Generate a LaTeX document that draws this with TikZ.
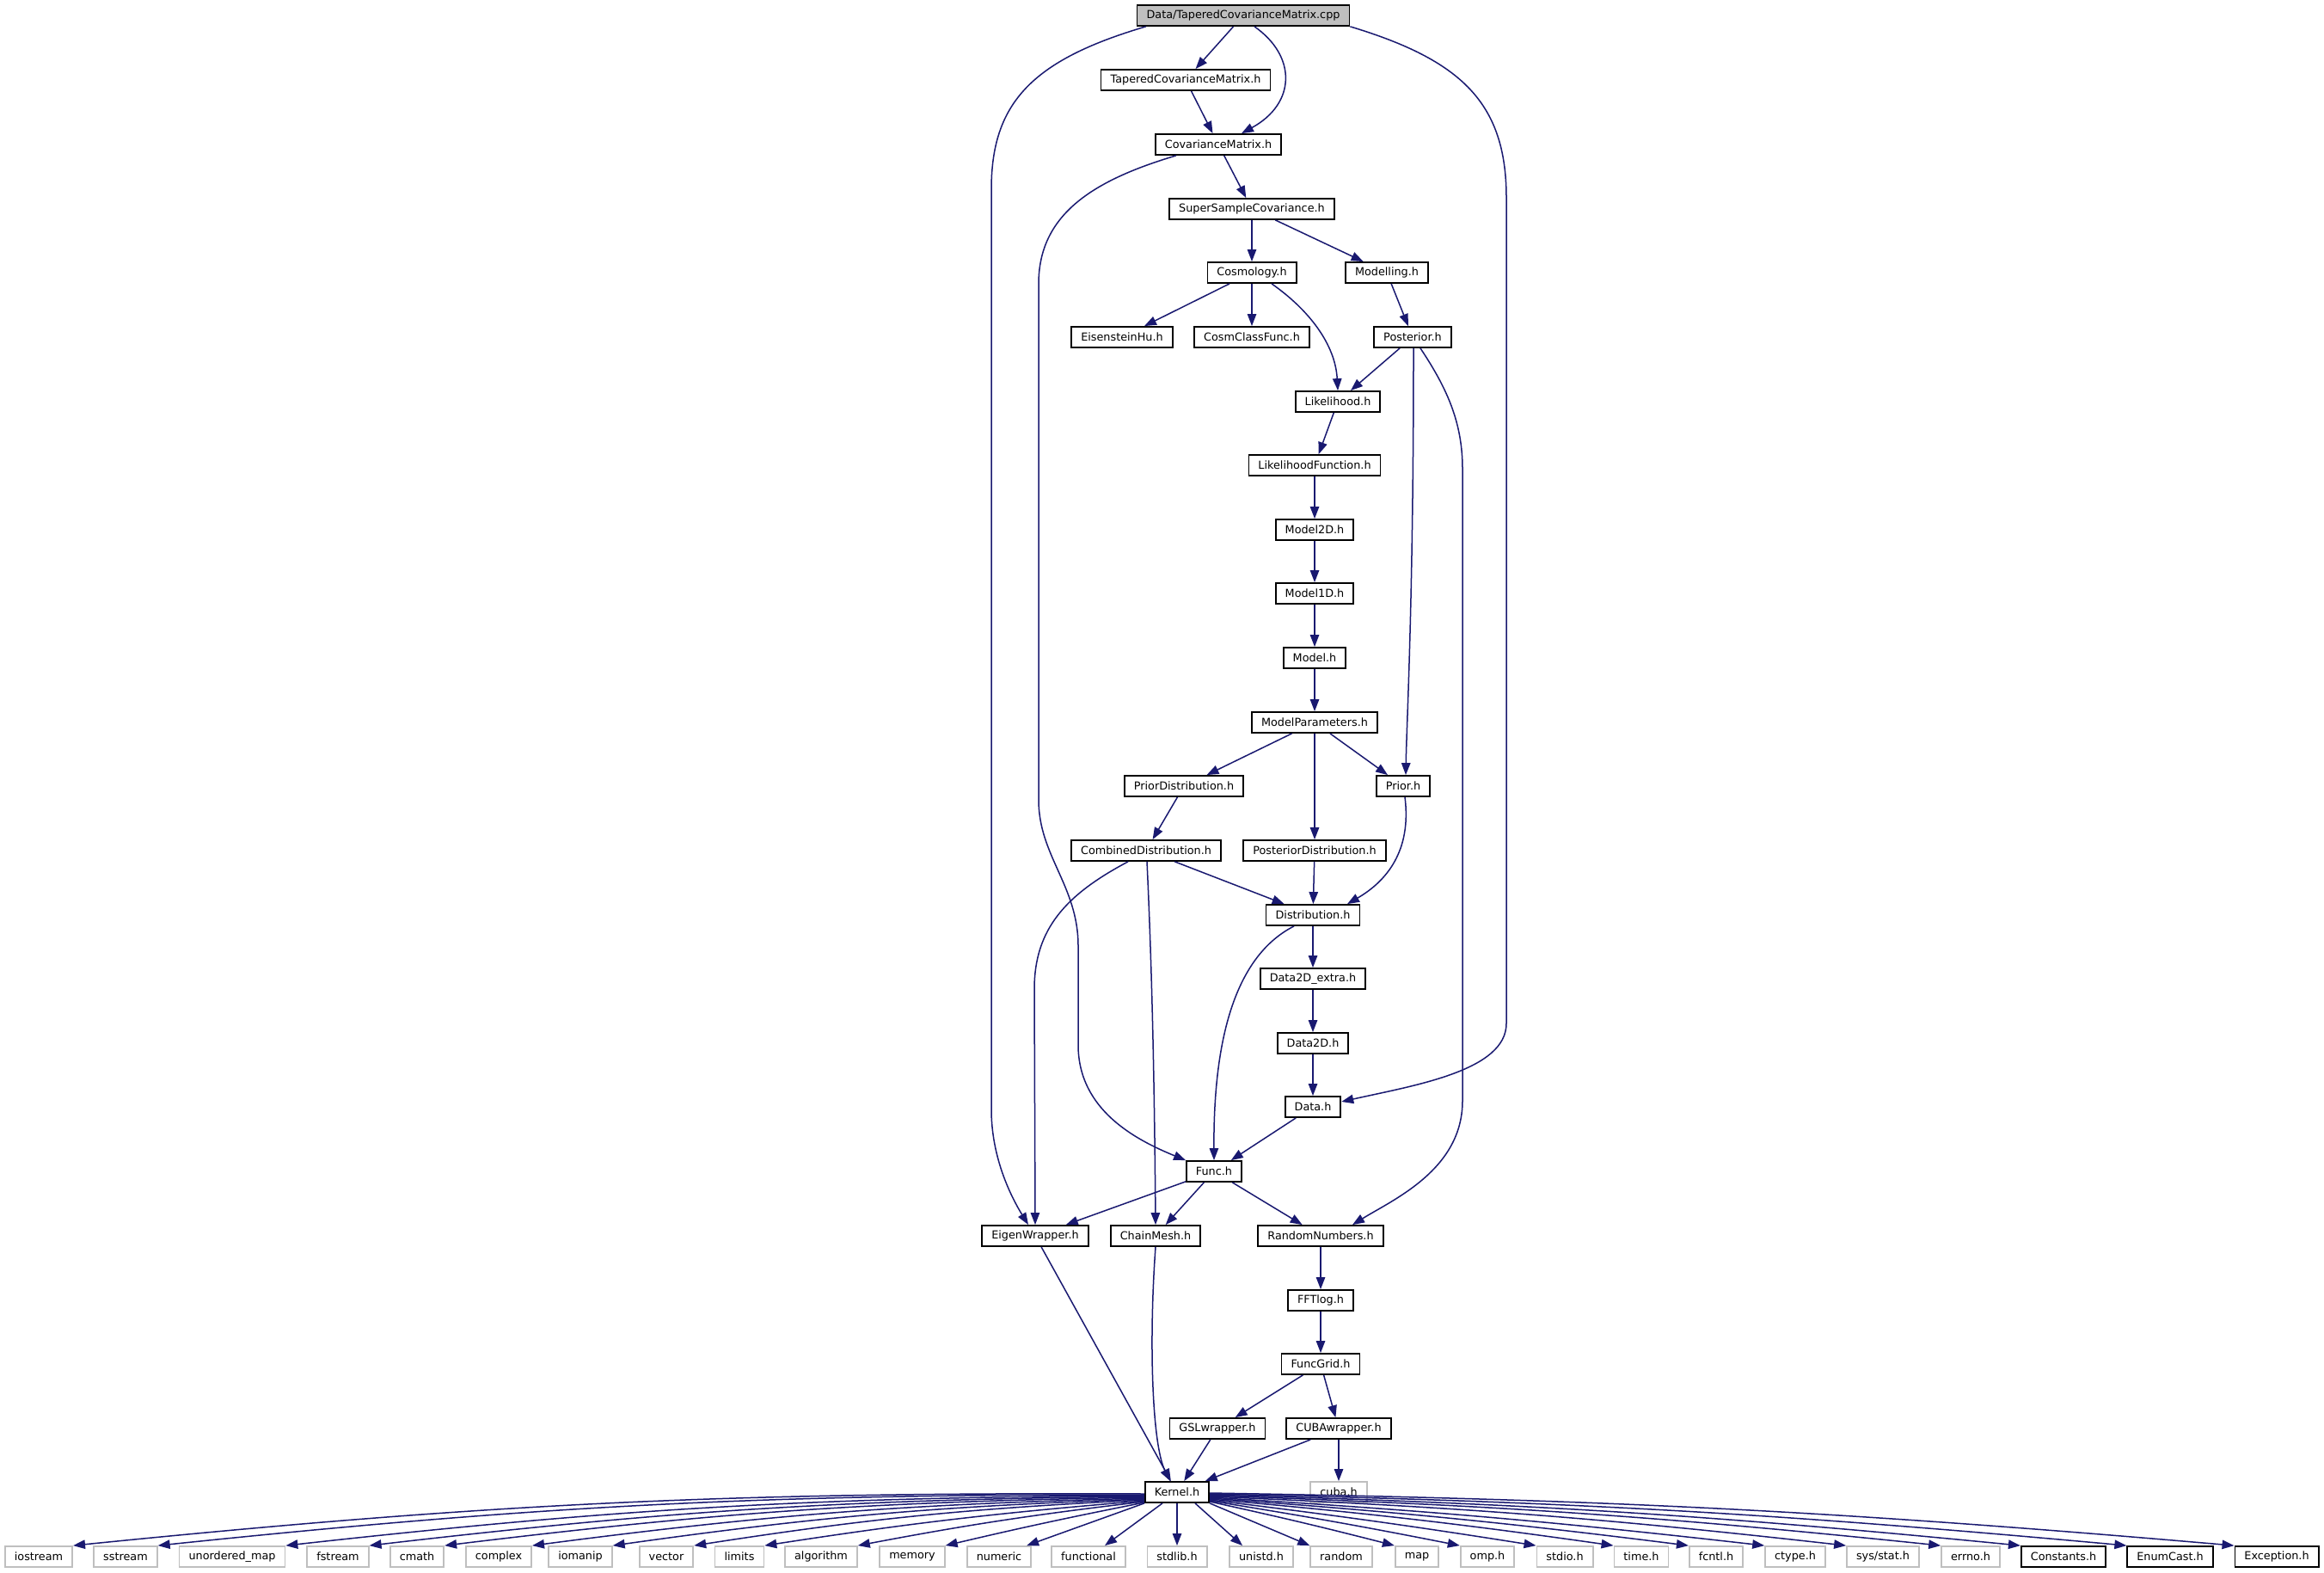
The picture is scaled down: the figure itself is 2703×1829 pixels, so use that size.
\documentclass[tikz,border=0pt]{standalone}
\usepackage{fontspec}
\setmainfont{DejaVu Sans}
\usetikzlibrary{arrows.meta,calc}
\definecolor{edgec}{HTML}{191970}
\definecolor{greyb}{HTML}{BFBFBF}
\begin{document}
\begin{tikzpicture}[x=0.5pt,y=-0.5pt,
  box/.style={draw=black, line width=0.9pt, fill=white, minimum height=12pt, inner xsep=5.5pt, inner ysep=0pt,
    font=\fontsize{6.4pt}{7.6pt}\selectfont, text=black, anchor=center},
  sysbox/.style={box, draw=greyb},
  rootbox/.style={box, fill=greyb},
  edge/.style={draw=edgec, line width=0.75pt, -{Triangle[length=7pt,width=5.2pt]}}]
\useasboundingbox (0,0) rectangle (2703,1829);
% main nodes
\node[rootbox] (cpp) at (1446,18) {Data/TaperedCovarianceMatrix.cpp};
\node[box] (tap) at (1379,93) {TaperedCovarianceMatrix.h};
\node[box] (cov) at (1417,168) {CovarianceMatrix.h};
\node[box] (ssc) at (1456,243) {SuperSampleCovariance.h};
\node[box] (cosmo) at (1456,317) {Cosmology.h};
\node[box] (modelling) at (1613,317) {Modelling.h};
\node[box] (eis) at (1305,392) {EisensteinHu.h};
\node[box] (ccf) at (1456,392) {CosmClassFunc.h};
\node[box] (post) at (1643,392) {Posterior.h};
\node[box] (lik) at (1556,467) {Likelihood.h};
\node[box] (likf) at (1529,541) {LikelihoodFunction.h};
\node[box] (m2d) at (1529,616) {Model2D.h};
\node[box] (m1d) at (1529,690) {Model1D.h};
\node[box] (model) at (1529,765) {Model.h};
\node[box] (mpar) at (1529,840) {ModelParameters.h};
\node[box] (priord) at (1377,914) {PriorDistribution.h};
\node[box] (prior) at (1632,914) {Prior.h};
\node[box] (comb) at (1333,989) {CombinedDistribution.h};
\node[box] (postd) at (1529,989) {PosteriorDistribution.h};
\node[box] (dist) at (1527,1064) {Distribution.h};
\node[box] (d2dx) at (1527,1138) {Data2D\_extra.h};
\node[box] (d2d) at (1527,1213) {Data2D.h};
\node[box] (data) at (1527,1287) {Data.h};
\node[box] (func) at (1412,1362) {Func.h};
\node[box] (eigen) at (1204,1437) {EigenWrapper.h};
\node[box] (chain) at (1344,1437) {ChainMesh.h};
\node[box] (rnd) at (1536,1437) {RandomNumbers.h};
\node[box] (fft) at (1536,1512) {FFTlog.h};
\node[box] (fgrid) at (1536,1586) {FuncGrid.h};
\node[box] (gsl) at (1416,1661) {GSLwrapper.h};
\node[box] (cubaw) at (1557,1661) {CUBAwrapper.h};
\node[box] (kernel) at (1369,1735) {Kernel.h};
\node[sysbox] (cuba) at (1557,1735) {cuba.h};
% bottom row
\node[sysbox] (bios) at (45,1810) {iostream};
\node[sysbox] (bsst) at (146,1810) {sstream};
\node[sysbox] (bum) at (270,1810) {unordered\_map};
\node[sysbox] (bfst) at (393,1810) {fstream};
\node[sysbox] (bcm) at (485,1810) {cmath};
\node[sysbox] (bcx) at (580,1810) {complex};
\node[sysbox] (biom) at (675,1810) {iomanip};
\node[sysbox] (bvec) at (775,1810) {vector};
\node[sysbox] (blim) at (860,1810) {limits};
\node[sysbox] (balg) at (955,1810) {algorithm};
\node[sysbox] (bmem) at (1061,1810) {memory};
\node[sysbox] (bnum) at (1162,1810) {numeric};
\node[sysbox] (bfun) at (1266,1810) {functional};
\node[sysbox] (bstdlib) at (1369,1810) {stdlib.h};
\node[sysbox] (bunistd) at (1467,1810) {unistd.h};
\node[sysbox] (brand) at (1560,1810) {random};
\node[sysbox] (bmap) at (1648,1810) {map};
\node[sysbox] (bomp) at (1730,1810) {omp.h};
\node[sysbox] (bstdio) at (1820,1810) {stdio.h};
\node[sysbox] (btime) at (1909,1810) {time.h};
\node[sysbox] (bfcntl) at (1996,1810) {fcntl.h};
\node[sysbox] (bctype) at (2088,1810) {ctype.h};
\node[sysbox] (bsys) at (2190,1810) {sys/stat.h};
\node[sysbox] (berrno) at (2292,1810) {errno.h};
\node[box] (bconst) at (2400,1810) {Constants.h};
\node[box] (benum) at (2524,1810) {EnumCast.h};
\node[box] (bexc) at (2648,1810) {Exception.h};
% edges, top part
\draw[edge] (cpp) -- (tap);
\draw[edge] ($(cpp.south)+(13,0)$) .. controls (1508,65) and (1508,120) .. ($(cov.north)+(27,0)$);
\draw[edge] ($(cpp.south west)+(11,0)$) .. controls (1200,70) and (1153,120) .. (1153,220) -- (1153,1290) .. controls (1153,1345) and (1175,1390) .. ($(eigen.north)+(-8,0)$);
\draw[edge] ($(cpp.south east)+(0,0)$) .. controls (1700,70) and (1752,120) .. (1752,230) -- (1752,1190) .. controls (1752,1245) and (1645,1262) .. ($(data.east)+(0,-6)$);
\draw[edge] (tap) -- (cov);
\draw[edge] (cov) -- (ssc);
\draw[edge] ($(cov.south west)+(25,0)$) .. controls (1270,210) and (1208,250) .. (1208,330) -- (1208,930) .. controls (1208,995) and (1254,1030) .. (1254,1100) -- (1254,1215) .. controls (1254,1290) and (1320,1325) .. (func.north west);
\draw[edge] (ssc) -- (cosmo);
\draw[edge] (ssc) -- (modelling);
\draw[edge] (cosmo) -- (eis);
\draw[edge] (cosmo) -- (ccf);
\draw[edge] ($(cosmo.south)+(23,0)$) .. controls (1522,360) and (1553,400) .. (lik.north);
\draw[edge] (modelling) -- (post);
\draw[edge] (post) -- (lik);
\draw[edge] ($(post.south)+(1,0)$) .. controls (1644,700) and (1636,840) .. ($(prior.north)+(3,0)$);
\draw[edge] ($(post.south)+(9,0)$) .. controls (1682,450) and (1701,490) .. (1701,545) -- (1701,1280) .. controls (1701,1360) and (1620,1395) .. ($(rnd.north)+(37,0)$);
\draw[edge] (lik) -- (likf);
\draw[edge] (likf) -- (m2d);
\draw[edge] (m2d) -- (m1d);
\draw[edge] (m1d) -- (model);
\draw[edge] (model) -- (mpar);
\draw[edge] (mpar) -- (priord);
\draw[edge] (mpar) -- (postd);
\draw[edge] (mpar) -- (prior);
\draw[edge] (priord) -- (comb);
\draw[edge] (postd) -- (dist);
\draw[edge] ($(prior.south)+(2,0)$) .. controls (1642,990) and (1612,1025) .. ($(dist.north)+(40,0)$);
\draw[edge] (comb) -- (dist);
\draw[edge] ($(comb.south)+(-21,0)$) .. controls (1240,1040) and (1203,1080) .. (1203,1150) -- (eigen.north);
\draw[edge] ($(comb.south)+(1,0)$) .. controls (1341,1150) and (1343,1300) .. (chain.north);
\draw[edge] (dist) -- (d2dx);
\draw[edge] (d2dx) -- (d2d);
\draw[edge] (d2d) -- (data);
\draw[edge] ($(dist.south)+(-22,0)$) .. controls (1440,1110) and (1411,1200) .. (func.north);
\draw[edge] (data) -- (func);
\draw[edge] (func) -- (eigen);
\draw[edge] (func) -- (chain);
\draw[edge] (func) -- (rnd);
\draw[edge] (rnd) -- (fft);
\draw[edge] (fft) -- (fgrid);
\draw[edge] (fgrid) -- (gsl);
\draw[edge] (fgrid) -- (cubaw);
\draw[edge] (gsl) -- (kernel);
\draw[edge] (cubaw) -- (kernel);
\draw[edge] (cubaw) -- (cuba);
\draw[edge] (eigen) -- (kernel);
\draw[edge] (chain.south) .. controls (1336,1560) and (1340,1680) .. ($(kernel.north)+(-8,0)$);
% Kernel fan-out, left
\draw[edge] ($(kernel.west)+(0,2)$) to[bend right=3] (bios.north east);
\draw[edge] ($(kernel.west)+(0,3)$) to[bend right=3] (bsst.north east);
\draw[edge] ($(kernel.west)+(0,4)$) to[bend right=3] (bum.north east);
\draw[edge] ($(kernel.west)+(0,5)$) to[bend right=3] (bfst.north east);
\draw[edge] ($(kernel.west)+(0,6)$) to[bend right=3] (bcm.north east);
\draw[edge] ($(kernel.west)+(0,7)$) to[bend right=3] (bcx.north east);
\draw[edge] ($(kernel.west)+(0,8)$) to[bend right=3] (biom.north east);
\draw[edge] ($(kernel.west)+(0,9)$) to[bend right=3] (bvec.north east);
\draw[edge] ($(kernel.west)+(0,10)$) to[bend right=2] (blim.north east);
\draw[edge] ($(kernel.west)+(0,11)$) to[bend right=2] (balg.north east);
\draw[edge] ($(kernel.west)+(0,12)$) to[bend right=1] (bmem.north east);
\draw[edge] (kernel.south west) -- ($(bnum.north east)+(-6,0)$);
\draw[edge] ($(kernel.south)+(-17,0)$) -- ($(bfun.north)+(19,0)$);
\draw[edge] (kernel.south) -- (bstdlib.north);
% Kernel fan-out, right
\draw[edge] ($(kernel.south)+(21,0)$) -- ($(bunistd.north)+(-22,0)$);
\draw[edge] (kernel.south east) -- (brand.north west);
\draw[edge] ($(kernel.east)+(0,11)$) to[bend left=1] (bmap.north west);
\draw[edge] ($(kernel.east)+(0,10)$) to[bend left=1] (bomp.north west);
\draw[edge] ($(kernel.east)+(0,9)$) to[bend left=1] (bstdio.north west);
\draw[edge] ($(kernel.east)+(0,8)$) to[bend left=1.5] (btime.north west);
\draw[edge] ($(kernel.east)+(0,7)$) to[bend left=1.5] (bfcntl.north west);
\draw[edge] ($(kernel.east)+(0,6)$) to[bend left=1.5] (bctype.north west);
\draw[edge] ($(kernel.east)+(0,5)$) to[bend left=2] (bsys.north west);
\draw[edge] ($(kernel.east)+(0,4)$) to[bend left=2] (berrno.north west);
\draw[edge] ($(kernel.east)+(0,3)$) to[bend left=2] (bconst.north west);
\draw[edge] ($(kernel.east)+(0,2)$) to[bend left=2] (benum.north west);
\draw[edge] ($(kernel.east)+(0,1)$) to[bend left=2] (bexc.north west);
\end{tikzpicture}
\end{document}
